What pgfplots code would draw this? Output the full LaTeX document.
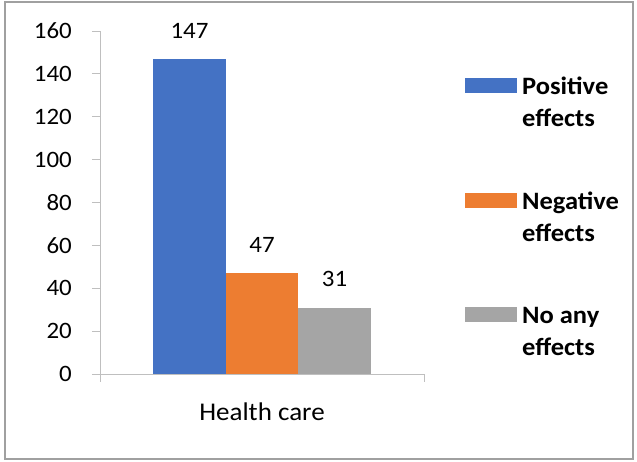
\documentclass[border=0pt]{standalone}
\usepackage{fontspec}
\setmainfont{Carlito}[FakeStretch=1.06]
\usepackage{pgfplots}
\pgfplotsset{compat=1.18}
\definecolor{cblue}{HTML}{4472C4}
\definecolor{corange}{HTML}{ED7D31}
\definecolor{cgray}{HTML}{A5A5A5}
\definecolor{axgray}{HTML}{BFBFBF}
\definecolor{framegray}{HTML}{A0A0A0}
\begin{document}
\begin{tikzpicture}[x=1pt,y=1pt]
\useasboundingbox (0,0) rectangle (637,462);
\draw[framegray, line width=1.6pt] (5,3) rectangle (633,460);
\begin{axis}[
  at={(100pt,88pt)}, anchor=south west,
  scale only axis, width=324pt, height=343pt,
  xmin=-1, xmax=1, ymin=0, ymax=160,
  ybar=0pt, bar width=72.5pt,
  axis x line*=bottom, axis y line*=left,
  axis line style={axgray, line width=0.9pt},
  ytick={0,20,...,160},
  xtick={-1,1}, xticklabels={},
  tick align=outside, major tick length=8pt,
  tick style={axgray, line width=0.9pt},
  extra x ticks={0}, extra x tick labels={Health care},
  extra x tick style={major tick length=0pt,
    xticklabel style={font=\fontsize{25.5}{30}\selectfont, inner sep=0pt, anchor=north, yshift=-29pt}},
  yticklabel style={font=\fontsize{23.5}{28}\selectfont, inner sep=0pt, anchor=east, xshift=-20pt},
  /pgf/number format/assume math mode=true,
  nodes near coords,
  every node near coord/.append style={font=\fontsize{23.5}{28}\selectfont, inner sep=0pt, anchor=south, yshift=20.5pt, text=black},
  legend style={at={(1.1265,0.866)}, anchor=north west, draw=none, fill=none,
    inner sep=0pt, row sep=64pt, column sep=5pt,
    font=\bfseries\fontsize{25}{32}\selectfont,
    nodes={inner sep=0pt, align=left}},
  legend cell align=left,
  legend image code/.code={\fill[#1] (0pt,10pt) rectangle (52pt,25pt);},
]
\addplot[fill=cblue, draw=none] coordinates {(0,147)};
\addplot[fill=corange, draw=none] coordinates {(0,47)};
\addplot[fill=cgray, draw=none] coordinates {(0,31)};
\legend{Positive\\effects, Negative\\effects, No any\\effects}
\end{axis}
\end{tikzpicture}
\end{document}
